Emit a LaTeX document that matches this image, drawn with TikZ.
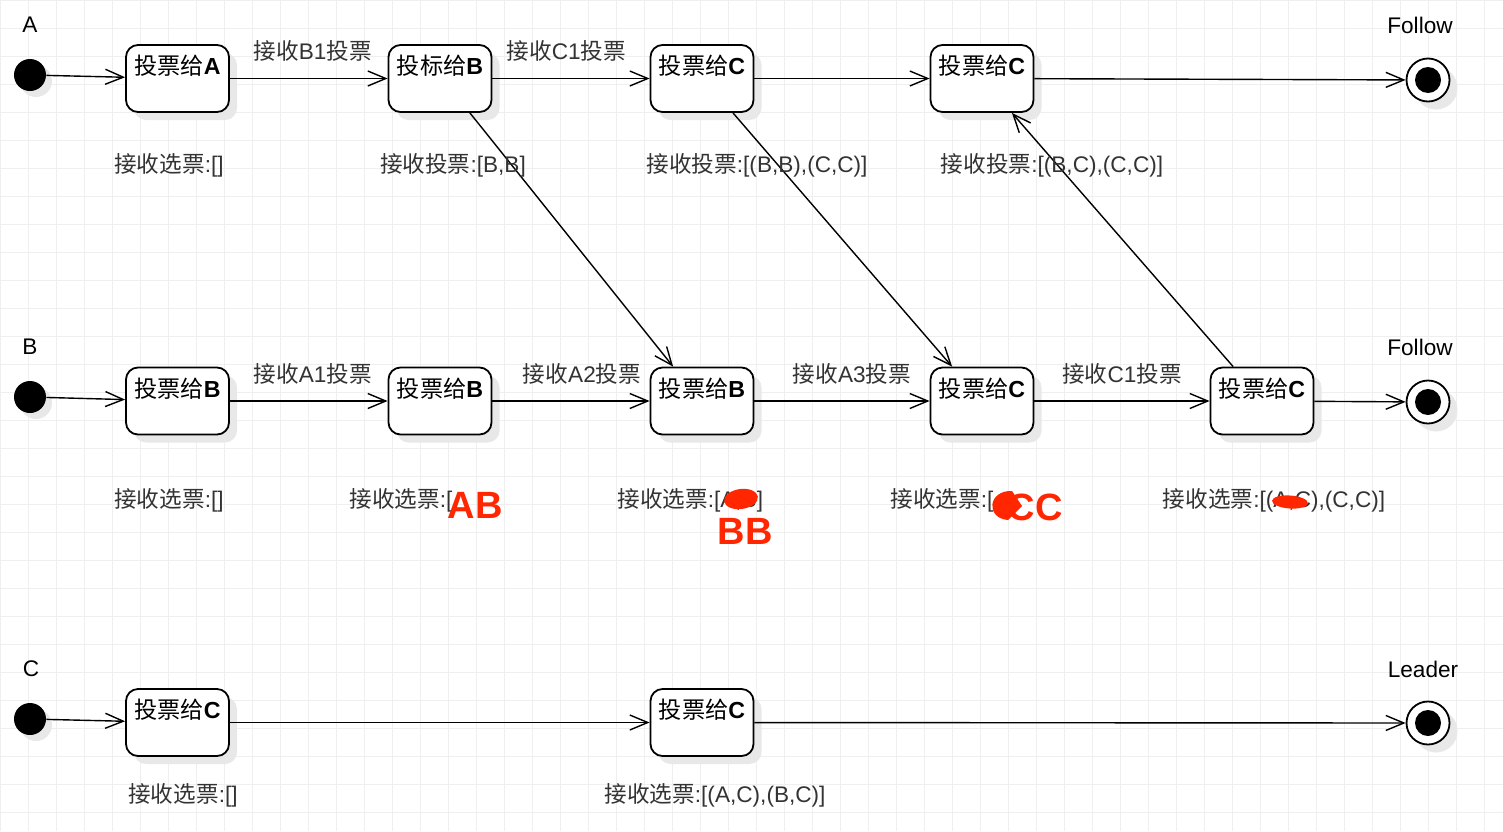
\documentclass[tikz,border=0pt]{standalone}
\usepackage{fontspec}
\setmainfont{Liberation Sans}
\newfontfamily\cjk{Noto Sans CJK SC}
\usetikzlibrary{arrows.meta,shadows}
\newcommand{\zh}[1]{{\cjk #1}}
\definecolor{gridc}{RGB}{239,239,239}
\definecolor{txt}{RGB}{51,51,51}
\definecolor{markred}{RGB}{255,38,0}
\begin{document}
\begin{tikzpicture}[x=0.5pt,y=-0.5pt,
  font=\fontsize{11.3pt}{13pt}\selectfont,
  statebox/.style={draw, line width=0.9pt, rounded corners=6pt, fill=white,
    minimum width=51.5pt, minimum height=33.5pt, inner sep=0pt,
    drop shadow={shadow xshift=4pt, shadow yshift=-4pt, fill=black!9, opacity=1}},
  boxtitle/.style={anchor=center, yshift=-11pt, inner sep=0pt, text=black,
    font=\fontsize{11.6pt}{13pt}\selectfont},
  startdot/.style={circle, fill=black, minimum size=16pt, inner sep=0pt,
    drop shadow={shadow xshift=3pt, shadow yshift=-3pt, fill=black!9, opacity=1}},
  enddot/.style={circle, draw, line width=0.9pt, fill=white, minimum size=21.5pt, inner sep=0pt,
    path picture={\fill[black] (path picture bounding box.center) circle (6.5pt);},
    drop shadow={shadow xshift=4pt, shadow yshift=-4pt, fill=black!9, opacity=1}},
  flow/.style={draw, line width=0.7pt, -{Straight Barb[length=9pt,width=7.5pt,line width=0.7pt]}},
  elabel/.style={text=txt, above=8pt, inner sep=0pt},
  note/.style={text=txt, inner sep=0pt},
  rowlbl/.style={text=black, inner sep=0pt},
  redmark/.style={text=markred, inner sep=0pt, font=\fontsize{19pt}{21pt}\selectfont\bfseries}
]
\useasboundingbox (0,0) rectangle (1503,831);
\fill[white] (0,0) rectangle (1503,831);
\foreach \g in {0,28,...,1500} \draw[gridc, line width=0.4pt] (\g,0) -- (\g,831);
\foreach \g in {0,28,...,830} \draw[gridc, line width=0.4pt] (0,\g) -- (1503,\g);

% row labels
\node[rowlbl] (la) at (30,25) {A};
\node[rowlbl] (lb) at (30,347) {B};
\node[rowlbl] (lc) at (31,669) {C};
\node[rowlbl] (ra) at (1420,25) {Follow};
\node[rowlbl] (rb) at (1420,347) {Follow};
\node[rowlbl] (rc) at (1423,669) {Leader};

% start / end states
\node[startdot] (ia) at (30,75) {};
\node[startdot] (ib) at (30,397) {};
\node[startdot] (ic) at (30,719) {};
\node[enddot] (fa) at (1428,80) {};
\node[enddot] (fb) at (1428,402) {};
\node[enddot] (fc) at (1428,723) {};

% row A
\node[statebox, label={[boxtitle]90:\zh{投票给}\textbf{A}}] (a1) at (177.5,78.5) {};
\node[statebox, label={[boxtitle]90:\zh{投标给}\textbf{B}}] (a2) at (440,78.5) {};
\node[statebox, label={[boxtitle]90:\zh{投票给}\textbf{C}}] (a3) at (702,78.5) {};
\node[statebox, label={[boxtitle]90:\zh{投票给}\textbf{C}}] (a4) at (982,78.5) {};
% row B
\node[statebox, label={[boxtitle]90:\zh{投票给}\textbf{B}}] (b1) at (177.5,401) {};
\node[statebox, label={[boxtitle]90:\zh{投票给}\textbf{B}}] (b2) at (440,401) {};
\node[statebox, label={[boxtitle]90:\zh{投票给}\textbf{B}}] (b3) at (702,401) {};
\node[statebox, label={[boxtitle]90:\zh{投票给}\textbf{C}}] (b4) at (982,401) {};
\node[statebox, label={[boxtitle]90:\zh{投票给}\textbf{C}}] (b5) at (1262,401) {};
% row C
\node[statebox, label={[boxtitle]90:\zh{投票给}\textbf{C}}] (c1) at (177.5,722.5) {};
\node[statebox, label={[boxtitle]90:\zh{投票给}\textbf{C}}] (c2) at (702,722.5) {};

% connectors row A
\draw[flow] (ia) -- (a1);
\draw[flow] (a1) -- node[elabel, pos=0.525] {\zh{接收}B1\zh{投票}} (a2);
\draw[flow] (a2) -- node[elabel, pos=0.47] {\zh{接收}C1\zh{投票}} (a3);
\draw[flow] (a3) -- (a4);
\draw[flow] (a4) -- (fa);
% row B
\draw[flow] (ib) -- (b1);
\draw[flow] (b1) -- node[elabel, pos=0.525] {\zh{接收}A1\zh{投票}} (b2);
\draw[flow] (b2) -- node[elabel, pos=0.57] {\zh{接收}A2\zh{投票}} (b3);
\draw[flow] (b3) -- node[elabel, pos=0.556] {\zh{接收}A3\zh{投票}} (b4);
\draw[flow] (b4) -- node[elabel, pos=0.5] {\zh{接收}C1\zh{投票}} (b5);
\draw[flow] (b5) -- (fb);
% row C
\draw[flow] (ic) -- (c1);
\draw[flow] (c1) -- (c2);
\draw[flow] (c2) -- (fc);
% diagonals
\draw[flow] (a2.-49) -- (b3.130.5);
\draw[flow] (a3.-48.5) -- (b4.131);
\draw[flow] (b5.130.6) -- (a4.-49);

% notes row A
\node[note] (na1) at (169,165) {\zh{接收选票}:[]};
\node[note] (na2) at (453,165) {\zh{接收投票}:[B,B]};
\node[note] (na3) at (757,165) {\zh{接收投票}:[(B,B),(C,C)]};
\node[note] (na4) at (1052,165) {\zh{接收投票}:[(B,C),(C,C)]};
% notes row B
\node[note] (nb1) at (169,500) {\zh{接收选票}:[]};
\node[note, anchor=west] (nb2) at (349,500) {\zh{接收选票}:[};
\node[note, anchor=west] (nb3) at (617,500) {\zh{接收选票}:[A,B]};
\node[note, anchor=west] (nb4) at (890,500) {\zh{接收选票}:[};
\node[note] (nb5) at (1274,500) {\zh{接收选票}:[(A,C),(C,C)]};
% notes row C
\node[note] (nc1) at (183,795) {\zh{接收选票}:[]};
\node[note] (nc2) at (715,795) {\zh{接收选票}:[(A,C),(B,C)]};

% red marks
\fill[markred, rotate around={8:(741,499)}] (741,499) ellipse (17 and 10);
\fill[markred] (1012,491) .. controls (988,490) and (985,518) .. (1008,520) -- (1022,506) -- cycle;
\fill[markred, rotate around={-4:(1290,502)}] (1290,502) ellipse (18 and 6.5);
\node[redmark] (mab) at (475,505) {AB};
\node[redmark] (mbb) at (745,531) {BB};
\node[redmark] (mcc) at (1035,507) {CC};
\end{tikzpicture}
\end{document}
